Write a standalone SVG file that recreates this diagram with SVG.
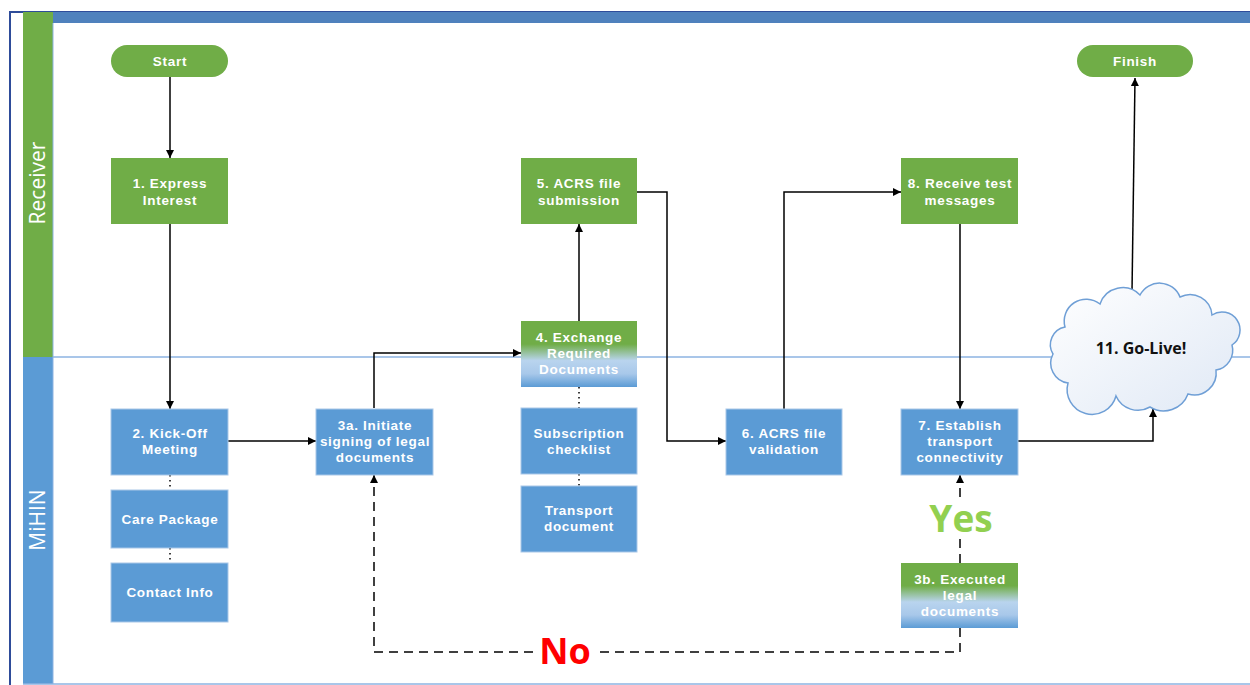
<svg xmlns="http://www.w3.org/2000/svg" width="1250" height="685" viewBox="0 0 1250 685">
<style>
.t{font-family:"Liberation Sans",Arial,sans-serif;font-weight:bold;font-size:13.5px;letter-spacing:0.7px;fill:#fff;text-anchor:middle}
.g{fill:#70ad47}
.b{fill:#5b9bd5;stroke:#a9c7e8;stroke-width:1}
.c{fill:none;stroke:#000;stroke-width:1.5}
.d{fill:none;stroke:#000;stroke-width:1.5;stroke-dasharray:1.5,3.5}
.k{fill:none;stroke:#000;stroke-width:1.5;stroke-dasharray:9,6}
.lane{font-family:"Open Sans","Liberation Sans",sans-serif;font-size:21px;fill:#fff;text-anchor:middle}
</style>
<defs>
<marker id="a" viewBox="0 0 10 10" refX="10" refY="5" markerWidth="8" markerHeight="8" markerUnits="userSpaceOnUse" orient="auto"><path d="M0,0L10,5L0,10z" fill="#000"/></marker>
<linearGradient id="gb" x1="0" y1="0" x2="0" y2="1">
<stop offset="0" stop-color="#70ad47"/><stop offset="0.35" stop-color="#70ad47"/><stop offset="0.6" stop-color="#b9d4ee"/><stop offset="0.8" stop-color="#a8c8ea"/><stop offset="1" stop-color="#5b9bd5"/>
</linearGradient>
<linearGradient id="cl" x1="0" y1="0" x2="1" y2="1">
<stop offset="0" stop-color="#ffffff"/><stop offset="1" stop-color="#dfe8f5"/>
</linearGradient>
</defs>
<rect x="0" y="0" width="1250" height="685" fill="#fff"/>
<g id="pool">
<rect x="10" y="12" width="1250" height="690" fill="#fff" stroke="#2e4c9a" stroke-width="2"/>
<rect x="53" y="12" width="1197" height="11" fill="#4f81bd"/>
<rect x="23" y="12" width="30" height="345" fill="#70ad47"/>
<rect x="23" y="357" width="30" height="327" fill="#5b9bd5"/>
<line x1="53" y1="357" x2="1250" y2="357" stroke="#8db3e2" stroke-width="1.5"/>
<line x1="23" y1="684" x2="1250" y2="684" stroke="#8db3e2" stroke-width="1.5"/>
<line x1="53" y1="23" x2="53" y2="684" stroke="#8db3e2" stroke-width="1"/>
<text class="lane" transform="translate(45,183) rotate(-90)">Receiver</text>
<text class="lane" transform="translate(45,520) rotate(-90)">MiHIN</text>
</g>
<g id="connectors">
<line class="c" x1="170" y1="77" x2="170" y2="158" marker-end="url(#a)"/>
<line class="c" x1="170" y1="224" x2="170" y2="409" marker-end="url(#a)"/>
<line class="c" x1="228" y1="441" x2="316" y2="441" marker-end="url(#a)"/>
<polyline class="c" points="374,408 374,353 521,353" marker-end="url(#a)"/>
<line class="c" x1="579" y1="321" x2="579" y2="224" marker-end="url(#a)"/>
<polyline class="c" points="637,192 667,192 667,441 726,441" marker-end="url(#a)"/>
<polyline class="c" points="784,409 784,192 901,192" marker-end="url(#a)"/>
<line class="c" x1="960" y1="224" x2="960" y2="409" marker-end="url(#a)"/>
<polyline class="c" points="1018,441 1153,441 1153,409" marker-end="url(#a)"/>
<line class="c" x1="1132" y1="292" x2="1135" y2="78" marker-end="url(#a)"/>
<line class="d" x1="170" y1="475" x2="170" y2="490"/>
<line class="d" x1="170" y1="548" x2="170" y2="563"/>
<line class="d" x1="579" y1="387" x2="579" y2="408"/>
<line class="d" x1="579" y1="474" x2="579" y2="486"/>
<line class="k" x1="960" y1="563" x2="960" y2="537"/>
<line class="k" x1="960" y1="497" x2="960" y2="475" marker-end="url(#a)"/>
<polyline class="k" points="960,628 960,652 597,652"/>
<polyline class="k" points="533,652 374,652 374,475" marker-end="url(#a)"/>
<text x="961" y="532" font-family="Open Sans, Liberation Sans, sans-serif" font-weight="bold" font-size="37" fill="#92d050" text-anchor="middle">Yes</text>
<text x="565" y="664" font-family="Open Sans, Liberation Sans, sans-serif" font-weight="bold" font-size="36" fill="#ff0000" text-anchor="middle">No</text>
</g>
<g id="start"><rect class="g" x="111" y="45" width="117" height="32" rx="16"/><text class="t" x="170" y="66">Start</text></g>
<g id="finish"><rect class="g" x="1077" y="45" width="116" height="32" rx="16"/><text class="t" x="1135" y="66">Finish</text></g>
<g id="n1"><rect class="g" x="111" y="158" width="117" height="66"/><text class="t" x="170" y="188">1. Express</text><text class="t" x="170" y="205">Interest</text></g>
<g id="n5"><rect class="g" x="521" y="158" width="116" height="66"/><text class="t" x="579" y="188">5. ACRS file</text><text class="t" x="579" y="205">submission</text></g>
<g id="n8"><rect class="g" x="901" y="158" width="117" height="66"/><text class="t" x="960" y="188">8. Receive test</text><text class="t" x="960" y="205">messages</text></g>
<g id="n4"><rect x="521" y="321" width="116" height="66" fill="url(#gb)"/><text class="t" x="579" y="342">4. Exchange</text><text class="t" x="579" y="358">Required</text><text class="t" x="579" y="374">Documents</text></g>
<g id="n2"><rect class="b" x="111" y="409" width="117" height="66"/><text class="t" x="170" y="438">2. Kick-Off</text><text class="t" x="170" y="454">Meeting</text></g>
<g id="care"><rect class="b" x="111" y="490" width="117" height="58"/><text class="t" x="170" y="524">Care Package</text></g>
<g id="contact"><rect class="b" x="111" y="563" width="117" height="59"/><text class="t" x="170" y="597">Contact Info</text></g>
<g id="n3a"><rect class="b" x="316" y="409" width="117" height="66"/><text class="t" x="375" y="430">3a. Initiate</text><text class="t" x="375" y="446">signing of legal</text><text class="t" x="375" y="462">documents</text></g>
<g id="sub"><rect class="b" x="521" y="408" width="116" height="66"/><text class="t" x="579" y="438">Subscription</text><text class="t" x="579" y="454">checklist</text></g>
<g id="trans"><rect class="b" x="521" y="486" width="116" height="66"/><text class="t" x="579" y="515">Transport</text><text class="t" x="579" y="531">document</text></g>
<g id="n6"><rect class="b" x="726" y="409" width="116" height="66"/><text class="t" x="784" y="438">6. ACRS file</text><text class="t" x="784" y="454">validation</text></g>
<g id="n7"><rect class="b" x="901" y="409" width="117" height="66"/><text class="t" x="960" y="430">7. Establish</text><text class="t" x="960" y="446">transport</text><text class="t" x="960" y="462">connectivity</text></g>
<g id="n3b"><rect x="901" y="563" width="117" height="65" fill="url(#gb)"/><text class="t" x="960" y="584">3b. Executed</text><text class="t" x="960" y="600">legal</text><text class="t" x="960" y="616">documents</text></g>
<g id="n11">
<path d="M1068,383 A20,20 0 0 1 1053,354 A18,18 0 0 1 1065,327 A22,22 0 0 1 1100,304 A24,24 0 0 1 1140,295 A22,22 0 0 1 1180,297 A22,22 0 0 1 1212,315 A18,18 0 0 1 1232,345 A20,20 0 0 1 1216,370 A22,22 0 0 1 1188,394 A26,26 0 0 1 1150,407 A24,24 0 0 1 1116,396 A24,24 0 0 1 1068,383 Z" fill="url(#cl)" stroke="#6f9fd6" stroke-width="1.5"/>
<text x="1141" y="354" font-family="Open Sans, Liberation Sans, sans-serif" font-weight="bold" font-size="16" fill="#111" text-anchor="middle">11. Go-Live!</text>
</g>
</svg>
